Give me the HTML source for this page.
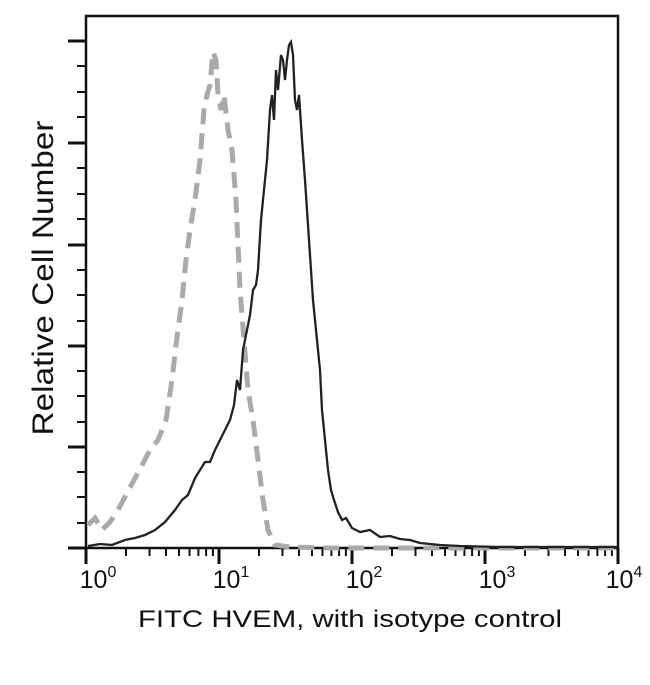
<!DOCTYPE html>
<html><head><style>body{margin:0;background:#fff}svg text{font-family:"Liberation Sans",Arial,sans-serif}</style></head>
<body>
<svg width="650" height="680" viewBox="0 0 650 680" xmlns="http://www.w3.org/2000/svg">
<rect x="86" y="16" width="532" height="532" fill="none" stroke="#111" stroke-width="2.5"/>
<g stroke="#111" stroke-width="2">
<line x1="68" y1="41" x2="86" y2="41" stroke-width="3"/><line x1="68" y1="143" x2="86" y2="143" stroke-width="3"/><line x1="68" y1="245" x2="86" y2="245" stroke-width="3"/><line x1="68" y1="346" x2="86" y2="346" stroke-width="3"/><line x1="68" y1="447" x2="86" y2="447" stroke-width="3"/><line x1="68" y1="548" x2="86" y2="548" stroke-width="3"/>
<line x1="77" y1="66" x2="86" y2="66"/><line x1="77" y1="92" x2="86" y2="92"/><line x1="77" y1="117" x2="86" y2="117"/>
<line x1="77" y1="168" x2="86" y2="168"/><line x1="77" y1="194" x2="86" y2="194"/><line x1="77" y1="219" x2="86" y2="219"/>
<line x1="77" y1="270" x2="86" y2="270"/><line x1="77" y1="295" x2="86" y2="295"/><line x1="77" y1="321" x2="86" y2="321"/>
<line x1="77" y1="371" x2="86" y2="371"/><line x1="77" y1="396" x2="86" y2="396"/><line x1="77" y1="422" x2="86" y2="422"/>
<line x1="77" y1="472" x2="86" y2="472"/><line x1="77" y1="497" x2="86" y2="497"/><line x1="77" y1="523" x2="86" y2="523"/>
</g>
<g stroke="#111" stroke-width="2">
<line x1="86" y1="548" x2="86" y2="564" stroke-width="3"/><line x1="219" y1="548" x2="219" y2="564" stroke-width="3"/><line x1="352" y1="548" x2="352" y2="564" stroke-width="3"/><line x1="485" y1="548" x2="485" y2="564" stroke-width="3"/><line x1="618" y1="548" x2="618" y2="564" stroke-width="3"/>
<path d="M126,548v8M149.5,548v8M166,548v8M179,548v8M189.5,548v8M198.4,548v8M206.1,548v8M212.9,548v8
M259,548v8M282.5,548v8M299,548v8M312,548v8M322.5,548v8M331.4,548v8M339.1,548v8M345.9,548v8
M392,548v8M415.5,548v8M432,548v8M445,548v8M455.5,548v8M464.4,548v8M472.1,548v8M478.9,548v8
M525,548v8M548.5,548v8M565,548v8M578,548v8M588.5,548v8M597.4,548v8M605.1,548v8M611.9,548v8"/>
</g>
<polyline fill="none" stroke="#aaa" stroke-width="5" stroke-dasharray="16,9" points="88,525 95,518 102,530 110,522 118,510 126,495 134,480 142,465 150,450 158,440 166,420 172,380 176,345 182,300 186,260 190,230 195,200 200,160 204,110 207,95 210,85 213,52 216,60 218,95 221,110 224,95 228,130 232,150 236,200 240,290 244,340 248,390 253,420 258,460 263,500 268,530 275,545 290,547 330,548 400,548 618,548"/>
<polyline fill="none" stroke="#222" stroke-width="2.3" points="88,546 100,544 112,545 125,540 135,538 145,535 155,530 165,522 175,510 182,500 188,495 195,478 200,470 205,462 210,462 215,450 220,440 225,430 230,420 234,405 237,380 240,390 243,350 247,330 250,315 253,290 256,285 258,270 261,220 264,190 267,160 270,110 272,95 274,120 276,70 278,90 281,55 283,60 285,80 287,60 289,45 291,42 293,55 295,100 297,110 299,95 302,140 305,180 309,240 313,300 317,340 320,370 322,410 325,440 328,470 331,490 334,500 338,512 342,520 346,518 352,528 360,532 370,530 380,537 390,536 400,539 410,540 420,543 440,545 460,546 500,547 560,547 618,547"/>
<g font-size="25" fill="#111" text-anchor="middle">
<text x="98" y="588">10<tspan font-size="16" dy="-11">0</tspan></text>
<text x="231" y="588">10<tspan font-size="16" dy="-11">1</tspan></text>
<text x="364" y="588">10<tspan font-size="16" dy="-11">2</tspan></text>
<text x="497" y="588">10<tspan font-size="16" dy="-11">3</tspan></text>
<text x="624" y="588">10<tspan font-size="16" dy="-11">4</tspan></text>
</g>
<text x="350" y="627" font-size="24" text-anchor="middle" fill="#111" textLength="424" lengthAdjust="spacingAndGlyphs">FITC HVEM, with isotype control</text>
<text transform="translate(53,278) rotate(-90)" font-size="30" text-anchor="middle" fill="#111" textLength="315" lengthAdjust="spacingAndGlyphs">Relative Cell Number</text>
</svg>
</body></html>
